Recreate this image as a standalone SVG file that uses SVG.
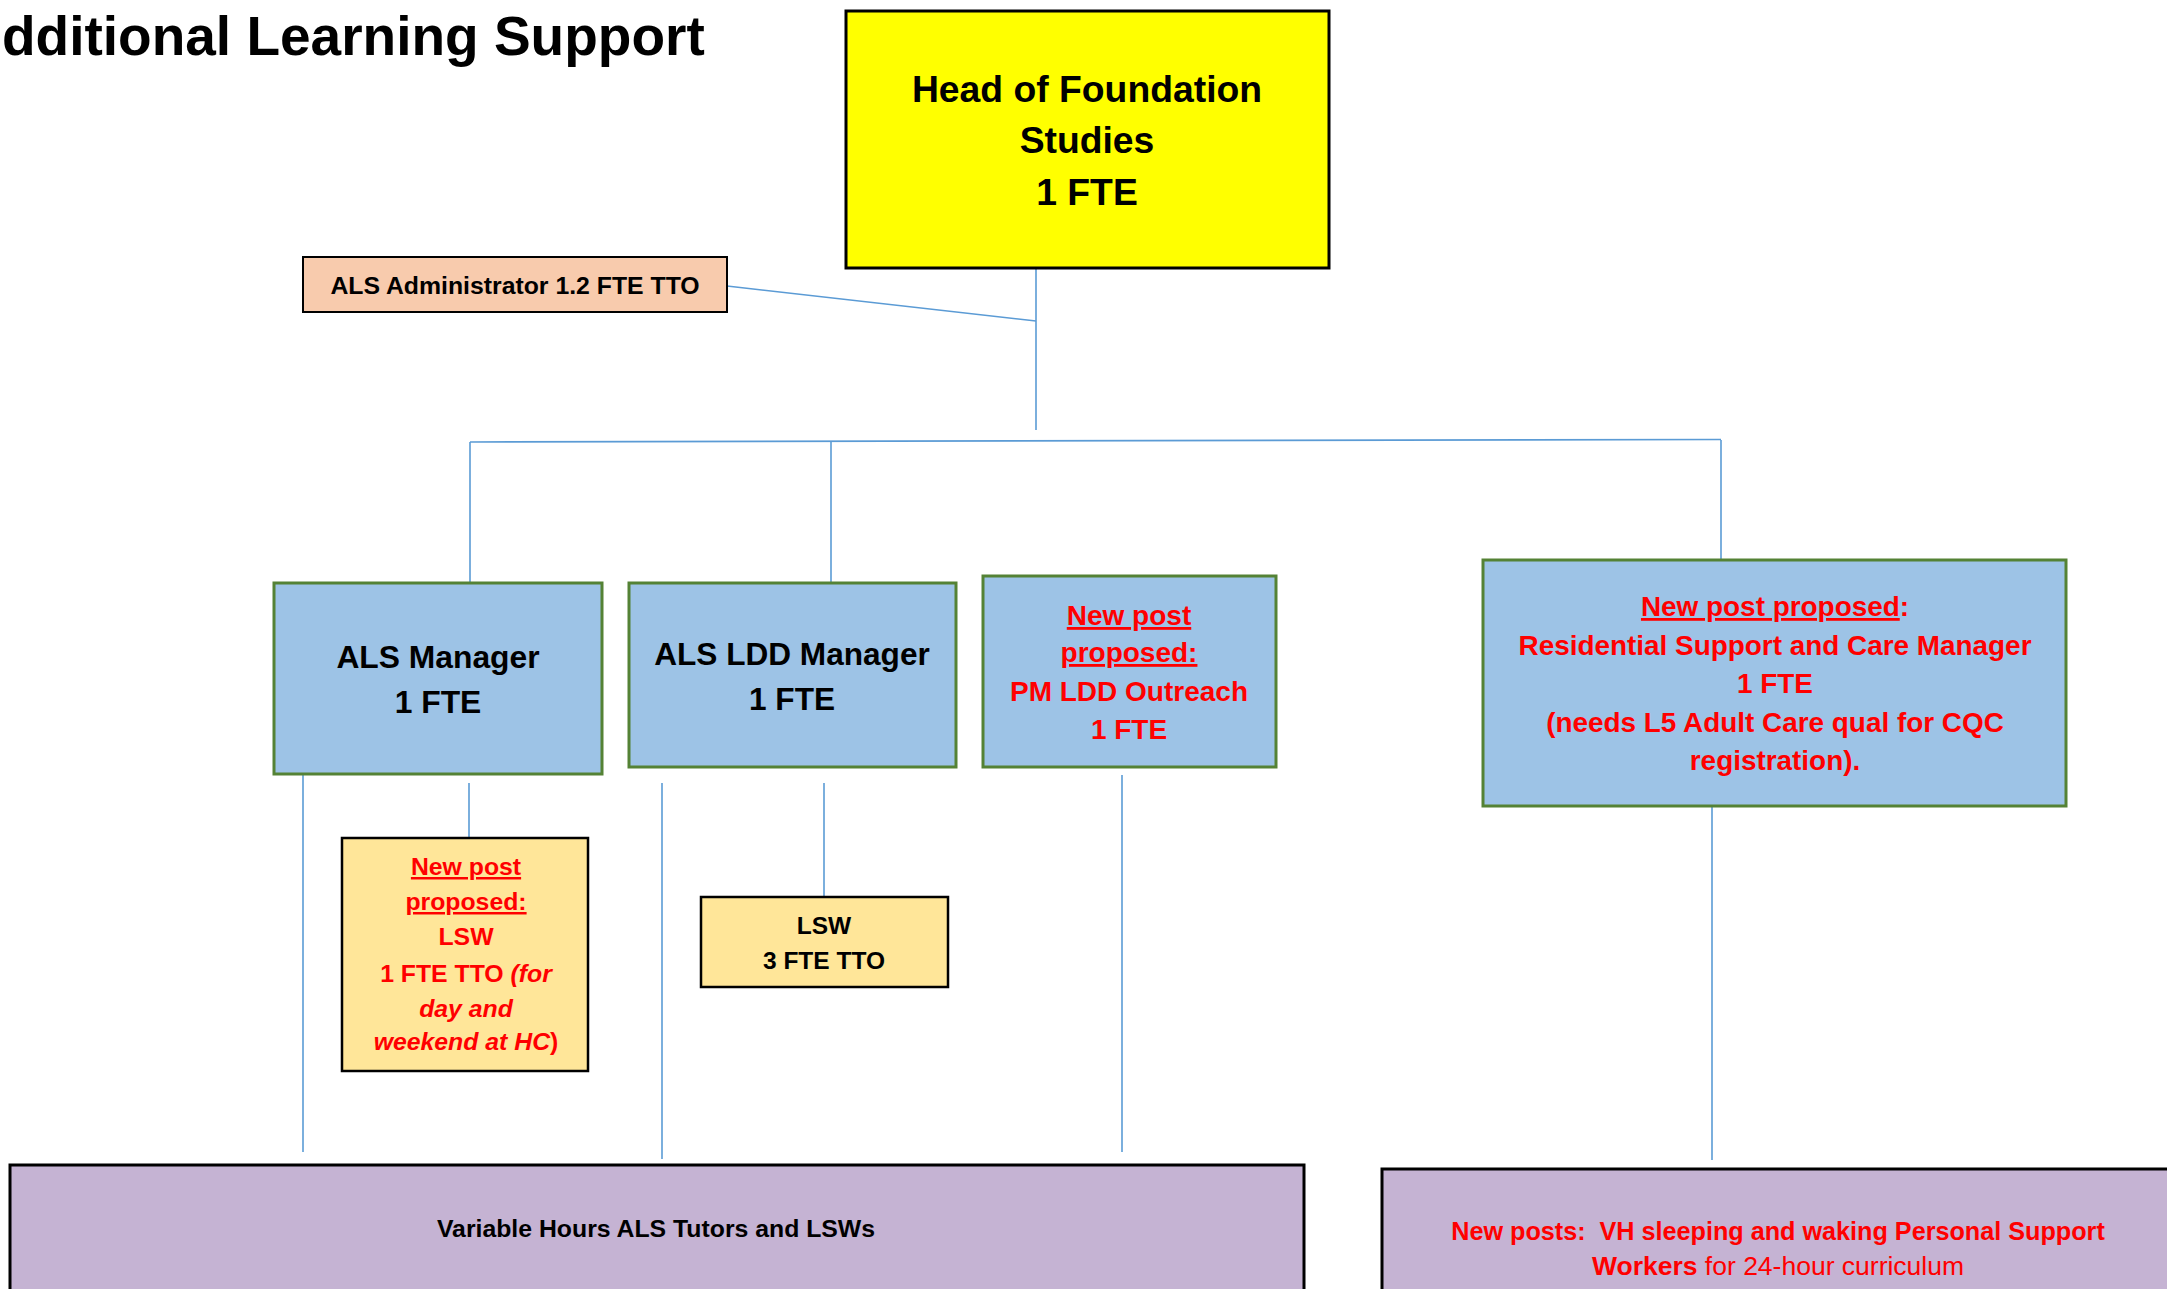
<svg xmlns="http://www.w3.org/2000/svg" width="2167" height="1289" viewBox="0 0 2167 1289">
<style>
  text { font-family: "Liberation Sans", Arial, sans-serif; font-weight: bold; text-anchor: middle; }
  .blk { fill: #000000; }
  .red { fill: #FF0000; }
  .u { text-decoration: underline; }
  .it { font-style: italic; }
  .reg { font-weight: normal; }
  .conn { stroke: #5B9BD5; stroke-width: 1.6; fill: none; }
  .green { fill: #9DC3E6; stroke: #548235; stroke-width: 3; }
  .yel { fill: #FFE699; stroke: #000000; stroke-width: 2.5; }
  .purp { fill: #C5B3D3; stroke: #000000; stroke-width: 3; }
</style>
<rect x="0" y="0" width="2167" height="1289" fill="#FFFFFF"/>

<g id="title">
  <text x="2" y="55" font-size="55" style="text-anchor:start" class="blk">dditional Learning Support</text>
</g>

<g id="connectors">
  <line class="conn" x1="1036" y1="269" x2="1036" y2="430"/>
  <line class="conn" x1="727" y1="286" x2="1036" y2="321"/>
  <line class="conn" x1="470" y1="442" x2="1721" y2="439.5"/>
  <line class="conn" x1="470" y1="442" x2="470" y2="583"/>
  <line class="conn" x1="831" y1="441" x2="831" y2="583"/>
  <line class="conn" x1="1721" y1="440" x2="1721" y2="560"/>
  <line class="conn" x1="303" y1="775" x2="303" y2="1152"/>
  <line class="conn" x1="469" y1="783" x2="469" y2="838"/>
  <line class="conn" x1="662" y1="783" x2="662" y2="1159"/>
  <line class="conn" x1="824" y1="783" x2="824" y2="897"/>
  <line class="conn" x1="1122" y1="775" x2="1122" y2="1152"/>
  <line class="conn" x1="1712" y1="806" x2="1712" y2="1160"/>
</g>

<g id="head">
  <rect x="846" y="11" width="483" height="257" fill="#FFFF00" stroke="#000000" stroke-width="3"/>
  <text x="1087" y="102" font-size="37.3" class="blk">Head of Foundation</text>
  <text x="1087" y="153" font-size="37.3" class="blk">Studies</text>
  <text x="1087" y="205" font-size="37.3" class="blk">1 FTE</text>
</g>

<g id="admin">
  <rect x="303" y="257" width="424" height="55" fill="#F8CBAD" stroke="#000000" stroke-width="2"/>
  <text x="515" y="294" font-size="24.8" class="blk">ALS Administrator 1.2 FTE TTO</text>
</g>

<g id="als-manager">
  <rect class="green" x="274" y="583" width="328" height="191"/>
  <text x="438" y="668" font-size="31.8" class="blk">ALS Manager</text>
  <text x="438" y="713" font-size="31.8" class="blk">1 FTE</text>
</g>

<g id="als-ldd-manager">
  <rect class="green" x="629" y="583" width="327" height="184"/>
  <text x="792" y="665" font-size="31.6" class="blk">ALS LDD Manager</text>
  <text x="792" y="710" font-size="31.6" class="blk">1 FTE</text>
</g>

<g id="pm-ldd-outreach">
  <rect class="green" x="983" y="576" width="293" height="191"/>
  <text x="1129" y="625" font-size="28" class="red u">New post</text>
  <text x="1129" y="662" font-size="28" class="red u">proposed:</text>
  <text x="1129" y="701" font-size="28" class="red">PM LDD Outreach</text>
  <text x="1129" y="739" font-size="28" class="red">1 FTE</text>
</g>

<g id="residential-manager">
  <rect class="green" x="1483" y="560" width="583" height="246"/>
  <text x="1775" y="616" font-size="27.9" class="red"><tspan class="u">New post proposed</tspan>:</text>
  <text x="1775" y="655" font-size="27.9" class="red">Residential Support and Care Manager</text>
  <text x="1775" y="693" font-size="27.9" class="red">1 FTE</text>
  <text x="1775" y="732" font-size="27.9" class="red">(needs L5 Adult Care qual for CQC</text>
  <text x="1775" y="770" font-size="27.9" class="red">registration).</text>
</g>

<g id="lsw-new">
  <rect class="yel" x="342" y="838" width="246" height="233"/>
  <text x="466" y="875" font-size="24.8" class="red u">New post</text>
  <text x="466" y="910" font-size="24.8" class="red u">proposed:</text>
  <text x="466" y="945" font-size="24.8" class="red">LSW</text>
  <text x="466" y="982" font-size="24.8" class="red">1 FTE TTO <tspan class="it">(for</tspan></text>
  <text x="466" y="1017" font-size="24.8" class="red it">day and</text>
  <text x="466" y="1050" font-size="24.8" class="red"><tspan class="it">weekend at HC</tspan>)</text>
</g>

<g id="lsw-3fte">
  <rect class="yel" x="701" y="897" width="247" height="90"/>
  <text x="824" y="934" font-size="24.5" class="blk">LSW</text>
  <text x="824" y="969" font-size="24.5" class="blk">3 FTE TTO</text>
</g>

<g id="variable-hours">
  <rect class="purp" x="10" y="1165" width="1294" height="140"/>
  <text x="656" y="1237" font-size="24.8" class="blk">Variable Hours ALS Tutors and LSWs</text>
</g>

<g id="new-posts-vh">
  <rect class="purp" x="1382" y="1169" width="800" height="140"/>
  <text x="1778" y="1240" font-size="25.2" class="red">New posts:&#160; VH sleeping and waking Personal Support</text>
  <text x="1778" y="1275" font-size="26.5" class="red">Workers<tspan class="reg"> for 24-hour curriculum</tspan></text>
</g>
</svg>
